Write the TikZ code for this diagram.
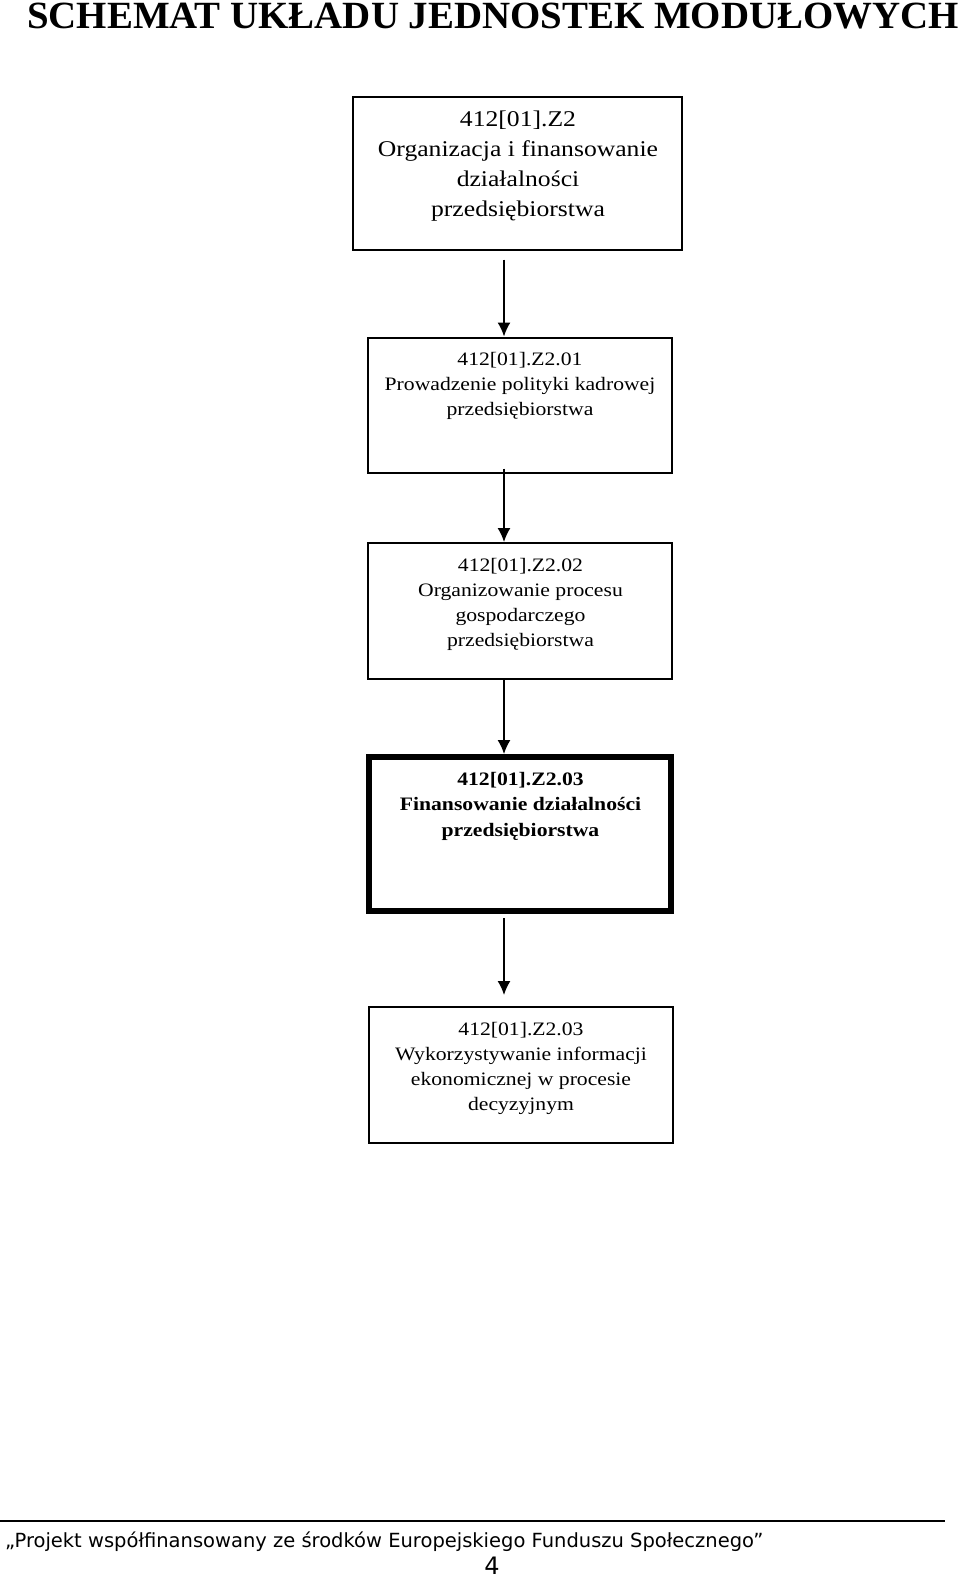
\documentclass[tikz,border=0pt]{standalone}
\usepackage{fontspec}
\setmainfont{Liberation Serif}
\newfontfamily\titlefont[FakeStretch=1.01]{Liberation Serif}
\newfontfamily\boxfont[FakeStretch=1.14]{Liberation Serif}
\newfontfamily\footfont{DejaVu Sans}
\usetikzlibrary{arrows.meta}
\tikzset{
  box/.style={draw=black, line width=2pt, rectangle, inner sep=0pt},
  thickbox/.style={draw=black, line width=6pt, rectangle, inner sep=0pt},
  bigtxt/.style={inner sep=0pt, align=center, font=\boxfont\fontsize{22.5}{30}\selectfont},
  txt/.style={inner sep=0pt, align=center, font=\boxfont\fontsize{19}{25}\selectfont},
  boldtxt/.style={inner sep=0pt, align=center, font=\boxfont\bfseries\fontsize{19}{25.5}\selectfont},
  arr/.style={draw=black, line width=1.5pt, -{Latex[length=14pt,width=13pt]}}
}
\begin{document}
\begin{tikzpicture}[x=1pt,y=-1pt]
\useasboundingbox (0,0) rectangle (960,1577);
% title
\node[inner sep=0pt, anchor=base west, font=\titlefont\bfseries\fontsize{38.5}{40}\selectfont] (title) at (27,28.5) {SCHEMAT UKŁADU JEDNOSTEK MODUŁOWYCH};
% boxes
\node[box, minimum width=328.5pt, minimum height=153pt] (b1) at (517.3,173) {};
\node[bigtxt] (t1) at (518,166) {412[01].Z2\\Organizacja i finansowanie\\działalności\\przedsiębiorstwa};
\node[box, minimum width=304pt, minimum height=135pt] (b2) at (519.5,405) {};
\node[txt] (t2) at (520,386) {412[01].Z2.01\\Prowadzenie polityki kadrowej\\przedsiębiorstwa};
\node[box, minimum width=304pt, minimum height=136pt] (b3) at (520,611) {};
\node[txt] (t3) at (520.5,604) {412[01].Z2.02\\Organizowanie procesu\\gospodarczego\\przedsiębiorstwa};
\node[thickbox, minimum width=302pt, minimum height=154pt] (b4) at (520,834) {};
\node[boldtxt] (t4) at (520.5,806) {412[01].Z2.03\\Finansowanie działalności\\przedsiębiorstwa};
\node[box, minimum width=304pt, minimum height=136pt] (b5) at (520.5,1075) {};
\node[txt] (t5) at (521,1068.5) {412[01].Z2.03\\Wykorzystywanie informacji\\ekonomicznej w procesie\\decyzyjnym};
% connectors
\coordinate (ax) at (504,0);
\draw[arr, shorten <=9pt] (b1.south -| ax) -- (b2.north -| ax);
\draw[arr, shorten <=-5pt] (b2.south -| ax) -- (b3.north -| ax);
\draw[arr] (b3.south -| ax) -- (b4.north -| ax);
\draw[arr, shorten <=4pt, shorten >=11pt] (b4.south -| ax) -- (b5.north -| ax);
% footer
\coordinate (rl) at (0,1521);
\coordinate (rr) at (945,1521);
\draw[line width=1.5pt] (rl) -- (rr);
\node[inner sep=0pt, anchor=base west, font=\footfont\fontsize{19.5}{22}\selectfont] (foot) at (5,1547) {„Projekt współfinansowany ze środków Europejskiego Funduszu Społecznego”};
\node[inner sep=0pt, anchor=base, font=\footfont\fontsize{24}{26}\selectfont] (page) at (492,1574) {4};
\end{tikzpicture}
\end{document}
